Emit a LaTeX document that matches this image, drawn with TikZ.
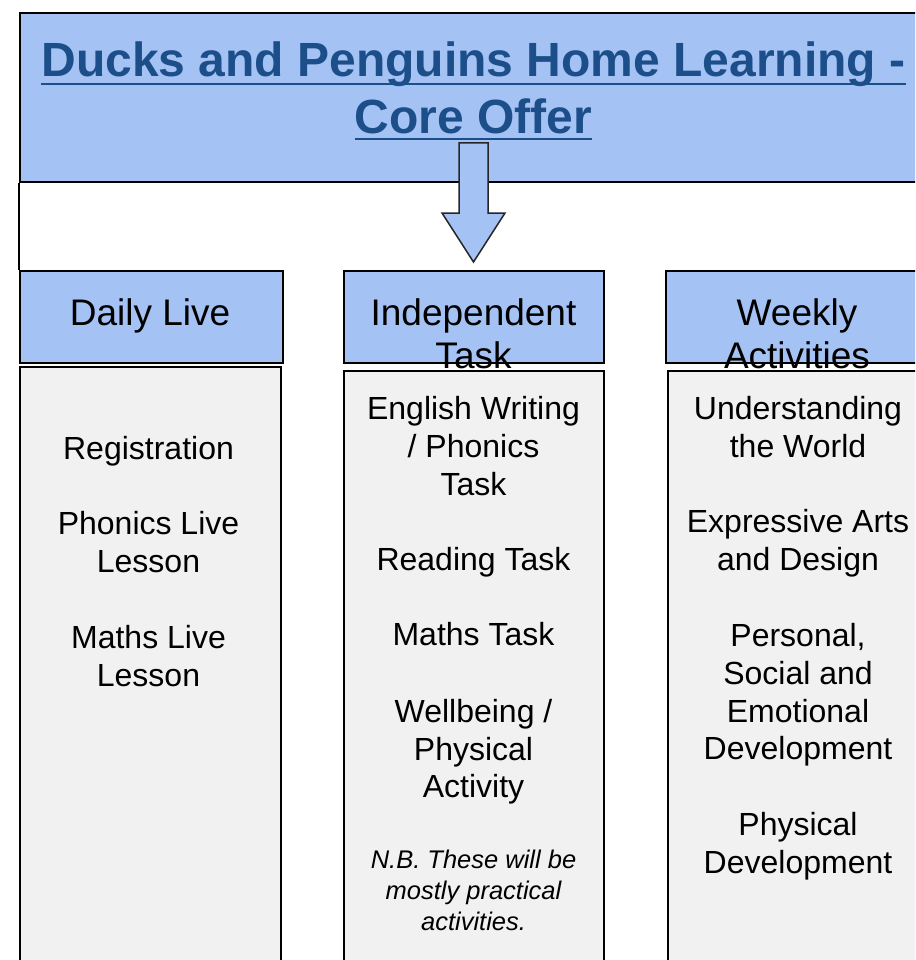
\documentclass[tikz,border=0pt]{standalone}
\usepackage{fontspec}
\setmainfont{Liberation Sans}
\definecolor{headfill}{HTML}{A4C2F4}
\definecolor{bodyfill}{HTML}{F1F1F1}
\definecolor{titleblue}{HTML}{1C4F8A}
\begin{document}
\begin{tikzpicture}[x=1pt,y=-1pt,
  frame/.style={draw=black,line width=1.8pt,anchor=north west,inner sep=0pt},
  headbox/.style={frame,fill=headfill},
  bodybox/.style={frame,fill=bodyfill},
  titletxt/.style={inner sep=0pt,text=titleblue,font=\fontsize{48}{57}\selectfont\bfseries},
  headtxt/.style={inner sep=0pt,align=center,font=\fontsize{37}{43}\selectfont},
  bodytxt/.style={inner sep=0pt,align=center,font=\fontsize{32}{37.7}\selectfont},
  notetxt/.style={inner sep=0pt,align=center,font=\fontsize{25.5}{31}\selectfont\itshape},
  bigarrow/.style={draw=black!85,line width=1.5pt,fill=headfill,line join=miter}]
\useasboundingbox (0,0) rectangle (915,960);
\clip (0,0) rectangle (915,960);
\fill[white] (0,0) rectangle (915,960);

% title box
\node[headbox,minimum width=920pt,minimum height=169pt] (title) at (19,12) {};
\node[titletxt,anchor=base] (t1) at (473.5,77) {Ducks and Penguins Home Learning -};
\node[titletxt,anchor=base] (t2) at (473.5,134) {Core Offer};
\draw[titleblue,line width=2.8pt] ([yshift=-7pt]t1.base west) -- ([yshift=-7pt]t1.base east);
\draw[titleblue,line width=2.8pt] ([yshift=-5pt]t2.base west) -- ([yshift=-5pt]t2.base east);

% body boxes
\node[bodybox,minimum width=261pt,minimum height=620pt] (db) at (19,366) {};
\node[bodybox,minimum width=260pt,minimum height=620pt] (ib) at (343,370) {};
\node[bodybox,minimum width=270pt,minimum height=620pt] (wb) at (667,370) {};

% header boxes
\node[headbox,minimum width=263pt,minimum height=92pt] (dh) at (19,270) {};
\node[headbox,minimum width=260pt,minimum height=92pt] (ih) at (343,270) {};
\node[headbox,minimum width=270pt,minimum height=92pt] (wh) at (665,270) {};

\draw[line width=1.8pt] (title.south west) -- (dh.north west);

% arrow
\draw[bigarrow] (459,143) -- (488,143) -- (488,213) -- (505,213) -- (473.5,262)
  -- (442,213) -- (459,213) -- cycle;

% header texts
\node[headtxt] (dht) at (150,316) {Daily Live};
\node[headtxt] (iht) at (473.5,334) {Independent\\Task};
\node[headtxt] (wht) at (797,334) {Weekly\\Activities};

% daily live
\node[bodytxt] (d1) at (148.5,451) {Registration};
\node[bodytxt] (d2) at (148.5,542) {Phonics Live\\Lesson};
\node[bodytxt] (d3) at (148.5,656) {Maths Live\\Lesson};

% independent task
\node[bodytxt] (i1) at (473.5,446) {English Writing\\/ Phonics\\Task};
\node[bodytxt] (i2) at (473.5,562) {Reading Task};
\node[bodytxt] (i3) at (473.5,634) {Maths Task};
\node[bodytxt] (i4) at (473.5,752) {Wellbeing /\\Physical\\Activity};
\node[notetxt] (i5) at (473.5,890) {N.B. These will be\\mostly practical\\activities.};

% weekly activities
\node[bodytxt] (w1) at (798,427) {Understanding\\the World};
\node[bodytxt] (w2) at (798,543) {Expressive Arts\\and Design};
\node[bodytxt] (w3) at (798,695) {Personal,\\Social and\\Emotional\\Development};
\node[bodytxt] (w4) at (798,846) {Physical\\Development};
\end{tikzpicture}
\end{document}
